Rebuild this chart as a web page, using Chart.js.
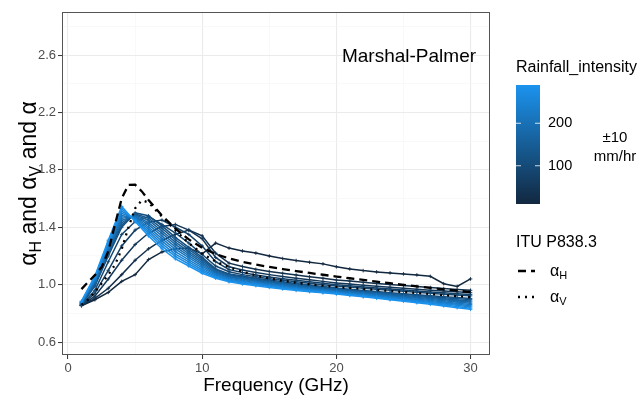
<!DOCTYPE html>
<html>
<head>
<meta charset="utf-8">
<script src="https://cdn.jsdelivr.net/npm/chart.js@4.4.0/dist/chart.umd.min.js"></script>
<style>
  html, body { margin: 0; padding: 0; background: #fff; }
  #wrap { width: 642px; height: 401px; }
</style>
</head>
<body>
<div id="wrap"><canvas id="chart" width="642" height="401"></canvas></div>
<script>
// frequencies of the Marshall-Palmer curves (GHz)
const freqs = [1,2,3,4,5,6,7,8,9,10,11,12,13,14,15,16,17,18,19,20,21,22,23,24,25,26,27,28,29,30];

// rainfall intensity of each curve (mm/hr)
const rainIntensity = [10,30,50,70,90,110,130,150,170,190,210,230,250,270,290];

// alpha for each rainfall intensity
const alphaR10  = [0.853,0.895,0.946,1.023,1.070,1.175,1.228,1.250,1.255,1.215,1.290,1.255,1.235,1.220,1.200,1.182,1.168,1.156,1.145,1.125,1.110,1.098,1.089,1.082,1.075,1.068,1.058,1.007,0.988,1.040];
const alphaR30  = [0.855,0.905,0.975,1.070,1.170,1.250,1.310,1.350,1.380,1.340,1.220,1.150,1.127,1.107,1.092,1.079,1.067,1.056,1.045,1.033,1.025,1.017,1.009,1.001,0.994,0.987,0.980,0.973,0.967,0.961];
const alphaR50  = [0.856,0.920,1.040,1.170,1.280,1.360,1.405,1.420,1.380,1.320,1.190,1.125,1.102,1.085,1.070,1.057,1.045,1.034,1.023,1.012,1.004,0.996,0.989,0.982,0.975,0.968,0.962,0.956,0.950,0.944];
const alphaR70  = [0.857,0.940,1.100,1.270,1.380,1.435,1.450,1.400,1.350,1.270,1.160,1.105,1.085,1.068,1.054,1.042,1.031,1.020,1.010,1.000,0.992,0.984,0.977,0.970,0.963,0.956,0.949,0.943,0.937,0.931];
const alphaR90  = [0.858,0.960,1.160,1.350,1.440,1.475,1.420,1.360,1.290,1.210,1.130,1.090,1.070,1.055,1.042,1.031,1.020,1.010,1.000,0.991,0.983,0.975,0.968,0.961,0.954,0.947,0.940,0.934,0.928,0.922];
const alphaR110 = [0.860,0.990,1.200,1.400,1.500,1.480,1.410,1.330,1.260,1.190,1.110,1.075,1.060,1.045,1.032,1.020,1.009,0.998,0.987,0.977,0.968,0.960,0.952,0.944,0.937,0.930,0.923,0.916,0.910,0.904];
const alphaR130 = [0.863,0.998,1.212,1.416,1.493,1.464,1.392,1.313,1.246,1.178,1.103,1.069,1.054,1.039,1.026,1.014,1.004,0.993,0.982,0.972,0.963,0.955,0.947,0.939,0.931,0.924,0.916,0.909,0.902,0.896];
const alphaR150 = [0.866,1.006,1.224,1.432,1.487,1.449,1.374,1.297,1.231,1.166,1.096,1.063,1.048,1.033,1.021,1.009,0.998,0.988,0.977,0.968,0.958,0.950,0.942,0.933,0.925,0.918,0.910,0.902,0.894,0.887];
const alphaR170 = [0.868,1.013,1.237,1.448,1.480,1.433,1.357,1.280,1.217,1.153,1.088,1.057,1.042,1.028,1.015,1.003,0.993,0.982,0.972,0.963,0.954,0.945,0.936,0.928,0.920,0.911,0.903,0.895,0.887,0.879];
const alphaR190 = [0.871,1.021,1.249,1.464,1.473,1.418,1.339,1.263,1.202,1.141,1.081,1.051,1.036,1.022,1.009,0.998,0.987,0.977,0.967,0.958,0.949,0.940,0.931,0.922,0.914,0.905,0.896,0.888,0.879,0.870];
const alphaR210 = [0.874,1.029,1.261,1.481,1.467,1.402,1.321,1.247,1.188,1.129,1.074,1.044,1.029,1.016,1.004,0.992,0.982,0.972,0.963,0.954,0.944,0.935,0.926,0.917,0.908,0.899,0.890,0.880,0.871,0.862];
const alphaR230 = [0.877,1.037,1.273,1.497,1.460,1.387,1.303,1.230,1.173,1.117,1.067,1.038,1.023,1.010,0.998,0.987,0.976,0.967,0.958,0.949,0.939,0.930,0.921,0.911,0.902,0.893,0.883,0.873,0.863,0.853];
const alphaR250 = [0.879,1.044,1.286,1.513,1.453,1.371,1.286,1.213,1.159,1.104,1.059,1.032,1.017,1.005,0.992,0.981,0.971,0.961,0.953,0.944,0.935,0.925,0.915,0.906,0.897,0.886,0.876,0.866,0.856,0.845];
const alphaR270 = [0.882,1.052,1.298,1.529,1.447,1.356,1.268,1.197,1.144,1.092,1.052,1.026,1.011,0.999,0.987,0.976,0.966,0.956,0.948,0.940,0.930,0.920,0.910,0.900,0.891,0.880,0.870,0.859,0.848,0.836];
const alphaR290 = [0.885,1.060,1.310,1.545,1.440,1.340,1.250,1.180,1.130,1.080,1.045,1.020,1.005,0.993,0.981,0.970,0.960,0.951,0.943,0.935,0.925,0.915,0.905,0.895,0.885,0.874,0.863,0.852,0.840,0.828];

const rainSeries = [alphaR10, alphaR30, alphaR50, alphaR70, alphaR90, alphaR110, alphaR130, alphaR150,
                    alphaR170, alphaR190, alphaR210, alphaR230, alphaR250, alphaR270, alphaR290];

// ITU-R P838.3 exponents
const ituFreqs = [1,1.5,2,2.5,3,3.5,4,4.5,5,5.5,6,7,8,9,10,11,12,13,14,15,16,17,18,19,20,21,22,23,24,25,26,27,28,29,30];
const ituAlphaH = [0.9691,1.0185,1.0664,1.1209,1.2322,1.4189,1.6009,1.6948,1.6969,1.6499,1.5900,1.4810,1.3905,1.3155,1.2571,1.2140,1.1825,1.1586,1.1396,1.1233,1.1086,1.0949,1.0818,1.0691,1.0568,1.0447,1.0329,1.0214,1.0101,0.9991,0.9884,0.9780,0.9679,0.9580,0.9485];
const ituAlphaV = [0.8592,0.8957,0.9490,1.0085,1.0688,1.1387,1.2476,1.3987,1.5317,1.5882,1.5728,1.4745,1.3797,1.2895,1.2156,1.1617,1.1216,1.0901,1.0646,1.0440,1.0273,1.0137,1.0025,0.9930,0.9847,0.9771,0.9700,0.9630,0.9561,0.9491,0.9421,0.9349,0.9277,0.9203,0.9129];

// axis ticks
const xMajor = [0, 10, 20, 30];
const xMinor = [5, 15, 25];
const yMajor = [0.6, 1.0, 1.4, 1.8, 2.2, 2.6];
const yMinor = [0.8, 1.2, 1.6, 2.0, 2.4, 2.8];
const barLabels = [100, 200];

const FONT = '"Liberation Sans", Arial, Helvetica, sans-serif';
const rMin = 10, rMax = 290;
const lowCol = [18, 40, 63];
const highCol = [27, 147, 238];

function rainColor(r) {
    const t = (r - rMin) / (rMax - rMin);
    const c = lowCol.map((v, i) => Math.round(v + (highCol[i] - v) * t));
    return 'rgb(' + c.join(',') + ')';
}

function isIn(list, v) {
    return list.some(m => Math.abs(m - v) < 1e-6);
}

const datasets = [];
rainSeries.forEach((vals, i) => {
    const col = rainColor(rainIntensity[i]);
    datasets.push({
        data: freqs.map((f, j) => ({ x: f, y: vals[j] })),
        borderColor: col,
        backgroundColor: col,
        borderWidth: 1.5,
        pointStyle: 'cross',
        pointRadius: 1.8,
        pointBorderWidth: 0.9,
        order: 100 - i
    });
});
datasets.push({
    data: ituFreqs.map((f, j) => ({ x: f, y: ituAlphaH[j] })),
    borderColor: '#000',
    borderWidth: 2.3,
    borderDash: [8, 5],
    pointRadius: 0,
    order: 1
});
datasets.push({
    data: ituFreqs.map((f, j) => ({ x: f, y: ituAlphaV[j] })),
    borderColor: '#000',
    borderWidth: 2.3,
    borderDash: [2, 5],
    pointRadius: 0,
    order: 0
});

// text with subscripts: parts = [[text, isSub], ...]
function subText(ctx, parts, x, y, size, align) {
    const subSize = Math.round(size * 0.7);
    let w = 0;
    parts.forEach(p => {
        ctx.font = (p[1] ? subSize : size) + 'px ' + FONT;
        w += ctx.measureText(p[0]).width;
    });
    let cx = align === 'center' ? x - w / 2 : x;
    ctx.textAlign = 'left';
    ctx.textBaseline = 'alphabetic';
    parts.forEach(p => {
        ctx.font = (p[1] ? subSize : size) + 'px ' + FONT;
        ctx.fillText(p[0], cx, p[1] ? y + size * 0.2 : y);
        cx += ctx.measureText(p[0]).width;
    });
}

const decor = {
    id: 'decor',
    afterDraw(chart) {
        const ctx = chart.ctx;
        const a = chart.chartArea;
        ctx.save();
        // panel border
        ctx.strokeStyle = '#555';
        ctx.lineWidth = 1;
        ctx.strokeRect(a.left + 0.5, a.top + 0.5, a.right - a.left - 1, a.bottom - a.top - 1);

        ctx.fillStyle = '#000';
        // annotation
        ctx.font = '19px ' + FONT;
        ctx.textAlign = 'center';
        ctx.textBaseline = 'middle';
        ctx.fillText('Marshal-Palmer', 409, 57);

        // x title
        ctx.fillText('Frequency (GHz)', (a.left + a.right) / 2, 386);

        // y title
        ctx.save();
        ctx.translate(36, (a.top + a.bottom) / 2);
        ctx.rotate(-Math.PI / 2);
        subText(ctx, [['\u03b1', false], ['H', true], [' and \u03b1', false], ['V', true], [' and \u03b1', false]], 0, 0, 23, 'center');
        ctx.restore();

        // colour bar legend
        ctx.textAlign = 'left';
        ctx.textBaseline = 'middle';
        ctx.font = '16px ' + FONT;
        ctx.fillText('Rainfall_intensity', 516, 68);
        const bx = 516, bw = 24, bTop = 85, bBot = 204;
        const g = ctx.createLinearGradient(0, bBot, 0, bTop);
        g.addColorStop(0, rainColor(rMin));
        g.addColorStop(1, rainColor(rMax));
        ctx.fillStyle = g;
        ctx.fillRect(bx, bTop, bw, bBot - bTop);
        ctx.strokeStyle = 'rgba(255,255,255,0.8)';
        ctx.lineWidth = 1;
        ctx.fillStyle = '#000';
        ctx.font = '14.5px ' + FONT;
        barLabels.forEach(v => {
            const y = bBot - (v - rMin) / (rMax - rMin) * (bBot - bTop);
            ctx.beginPath();
            ctx.moveTo(bx, y); ctx.lineTo(bx + 5, y);
            ctx.moveTo(bx + bw - 5, y); ctx.lineTo(bx + bw, y);
            ctx.stroke();
            ctx.fillText(String(v), 548, y);
        });
        ctx.textAlign = 'center';
        ctx.font = '15px ' + FONT;
        ctx.fillText('\u00b110', 615, 138);
        ctx.fillText('mm/hr', 615, 157);

        // ITU legend
        ctx.textAlign = 'left';
        ctx.font = '16px ' + FONT;
        ctx.fillText('ITU P838.3', 516, 243);
        ctx.strokeStyle = '#000';
        ctx.lineWidth = 2.3;
        ctx.setLineDash([8, 5]);
        ctx.beginPath(); ctx.moveTo(518, 271); ctx.lineTo(535, 271); ctx.stroke();
        ctx.setLineDash([2, 5]);
        ctx.beginPath(); ctx.moveTo(518, 297); ctx.lineTo(537, 297); ctx.stroke();
        ctx.setLineDash([]);
        subText(ctx, [['\u03b1', false], ['H', true]], 550, 276, 16, 'left');
        subText(ctx, [['\u03b1', false], ['V', true]], 550, 302, 16, 'left');
        ctx.restore();
    }
};

new Chart(document.getElementById('chart'), {
    type: 'line',
    data: { datasets: datasets },
    options: {
        responsive: false,
        animation: false,
        layout: { padding: { top: 12, right: 152, left: 0, bottom: 0 } },
        plugins: { legend: { display: false }, tooltip: { enabled: false } },
        scales: {
            x: {
                type: 'linear',
                min: -0.45,
                max: 31.45,
                afterBuildTicks: s => { s.ticks = xMajor.concat(xMinor).sort((p, q) => p - q).map(v => ({ value: v })); },
                afterFit: s => { s.height = 46; },
                ticks: {
                    autoSkip: false, maxRotation: 0, padding: 2,
                    color: '#4d4d4d', font: { family: FONT, size: 13 },
                    callback: v => isIn(xMajor, v) ? String(v) : ''
                },
                grid: {
                    color: c => isIn(xMajor, c.tick.value) ? '#ebebeb' : '#f5f5f5',
                    lineWidth: c => isIn(xMajor, c.tick.value) ? 1.1 : 0.6,
                    tickColor: c => isIn(xMajor, c.tick.value) ? '#333' : 'rgba(0,0,0,0)',
                    tickLength: 4, tickWidth: 1
                },
                border: { display: false }
            },
            y: {
                type: 'linear',
                min: 0.51,
                max: 2.90,
                afterBuildTicks: s => { s.ticks = yMajor.concat(yMinor).sort((p, q) => p - q).map(v => ({ value: v })); },
                afterFit: s => { s.width = 62; },
                ticks: {
                    autoSkip: false, padding: 2,
                    color: '#4d4d4d', font: { family: FONT, size: 13 },
                    callback: v => isIn(yMajor, v) ? v.toFixed(1) : ''
                },
                grid: {
                    color: c => isIn(yMajor, c.tick.value) ? '#ebebeb' : '#f5f5f5',
                    lineWidth: c => isIn(yMajor, c.tick.value) ? 1.1 : 0.6,
                    tickColor: c => isIn(yMajor, c.tick.value) ? '#333' : 'rgba(0,0,0,0)',
                    tickLength: 4, tickWidth: 1
                },
                border: { display: false }
            }
        }
    },
    plugins: [decor]
});
</script>
</body>
</html>
